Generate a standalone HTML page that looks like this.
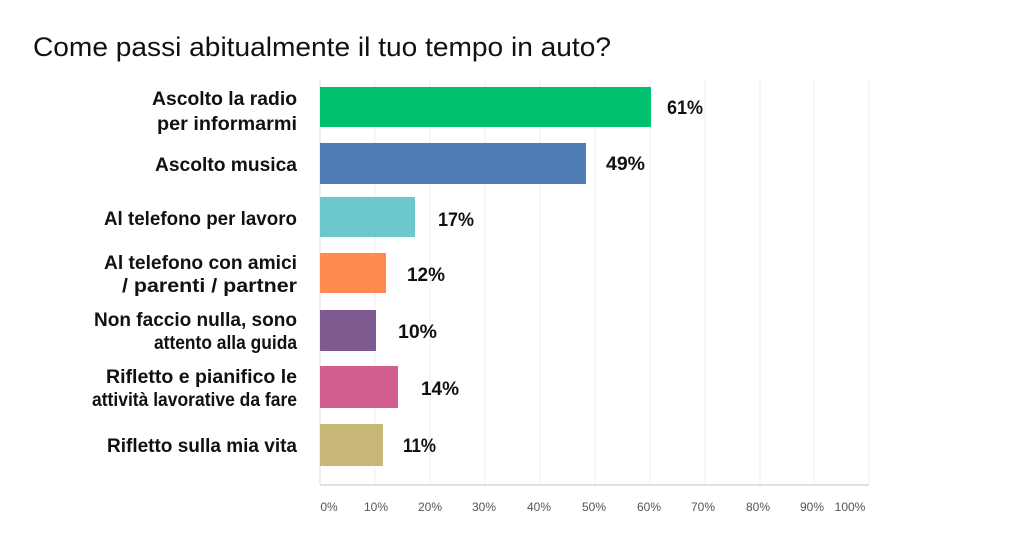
<!DOCTYPE html>
<html><head><meta charset="utf-8"><style>
html,body{margin:0;padding:0;background:#fff;}
svg{display:block;font-family:"Liberation Sans",sans-serif;}
</style></head><body>
<svg width="1024" height="538" viewBox="0 0 1024 538" xmlns="http://www.w3.org/2000/svg">
<text x="33" y="56" font-size="27" fill="#111" textLength="578" lengthAdjust="spacingAndGlyphs">Come passi abitualmente il tuo tempo in auto?</text>
<g stroke="#ececec" stroke-width="1">
<line x1="375" y1="80" x2="375" y2="485"/><line x1="430" y1="80" x2="430" y2="485"/>
<line x1="485" y1="80" x2="485" y2="485"/><line x1="540" y1="80" x2="540" y2="485"/>
<line x1="595" y1="80" x2="595" y2="485"/><line x1="650" y1="80" x2="650" y2="485"/>
<line x1="705" y1="80" x2="705" y2="485"/><line x1="760" y1="80" x2="760" y2="485"/>
<line x1="814" y1="80" x2="814" y2="485"/><line x1="869" y1="80" x2="869" y2="485"/>
</g>
<line x1="320" y1="80" x2="320" y2="485" stroke="#ddd"/>
<line x1="320" y1="485" x2="869" y2="485" stroke="#d8d8d8" stroke-width="1.5"/>
<rect x="320" y="87" width="331" height="40" fill="#00bf6f"/>
<rect x="320" y="143" width="266" height="41" fill="#507cb6"/>
<rect x="320" y="197" width="95" height="40" fill="#6bc8cd"/>
<rect x="320" y="253" width="66" height="40" fill="#ff8b4f"/>
<rect x="320" y="310" width="56" height="41" fill="#7d5b91"/>
<rect x="320" y="366" width="78" height="42" fill="#d25f90"/>
<rect x="320" y="424" width="63" height="42" fill="#c7b879"/>
<g font-size="19.5" font-weight="bold" fill="#111" text-anchor="end">
<text x="297" y="105" textLength="145" lengthAdjust="spacingAndGlyphs">Ascolto la radio</text>
<text x="297" y="130" textLength="140" lengthAdjust="spacingAndGlyphs">per informarmi</text>
<text x="297" y="171" textLength="142" lengthAdjust="spacingAndGlyphs">Ascolto musica</text>
<text x="297" y="225" textLength="193" lengthAdjust="spacingAndGlyphs">Al telefono per lavoro</text>
<text x="297" y="269" textLength="193" lengthAdjust="spacingAndGlyphs">Al telefono con amici</text>
<text x="297" y="292" textLength="175" lengthAdjust="spacingAndGlyphs">/ parenti / partner</text>
<text x="297" y="326" textLength="203" lengthAdjust="spacingAndGlyphs">Non faccio nulla, sono</text>
<text x="297" y="349" textLength="143" lengthAdjust="spacingAndGlyphs">attento alla guida</text>
<text x="297" y="383" textLength="191" lengthAdjust="spacingAndGlyphs">Rifletto e pianifico le</text>
<text x="297" y="406" textLength="205" lengthAdjust="spacingAndGlyphs">attività lavorative da fare</text>
<text x="297" y="452" textLength="190" lengthAdjust="spacingAndGlyphs">Rifletto sulla mia vita</text>
</g>
<g font-size="19.5" font-weight="bold" fill="#111">
<text x="667" y="114" textLength="36" lengthAdjust="spacingAndGlyphs">61%</text>
<text x="606" y="170" textLength="39" lengthAdjust="spacingAndGlyphs">49%</text>
<text x="438" y="226" textLength="36" lengthAdjust="spacingAndGlyphs">17%</text>
<text x="407" y="281" textLength="38" lengthAdjust="spacingAndGlyphs">12%</text>
<text x="398" y="338" textLength="39" lengthAdjust="spacingAndGlyphs">10%</text>
<text x="421" y="395" textLength="38" lengthAdjust="spacingAndGlyphs">14%</text>
<text x="403" y="452" textLength="33" lengthAdjust="spacingAndGlyphs">11%</text>
</g>
<g font-size="12" fill="#555" text-anchor="middle">
<text x="329" y="511">0%</text><text x="376" y="511">10%</text><text x="430" y="511">20%</text>
<text x="484" y="511">30%</text><text x="539" y="511">40%</text><text x="594" y="511">50%</text>
<text x="649" y="511">60%</text><text x="703" y="511">70%</text><text x="758" y="511">80%</text>
<text x="812" y="511">90%</text><text x="850" y="511">100%</text>
</g>
</svg>
</body></html>
